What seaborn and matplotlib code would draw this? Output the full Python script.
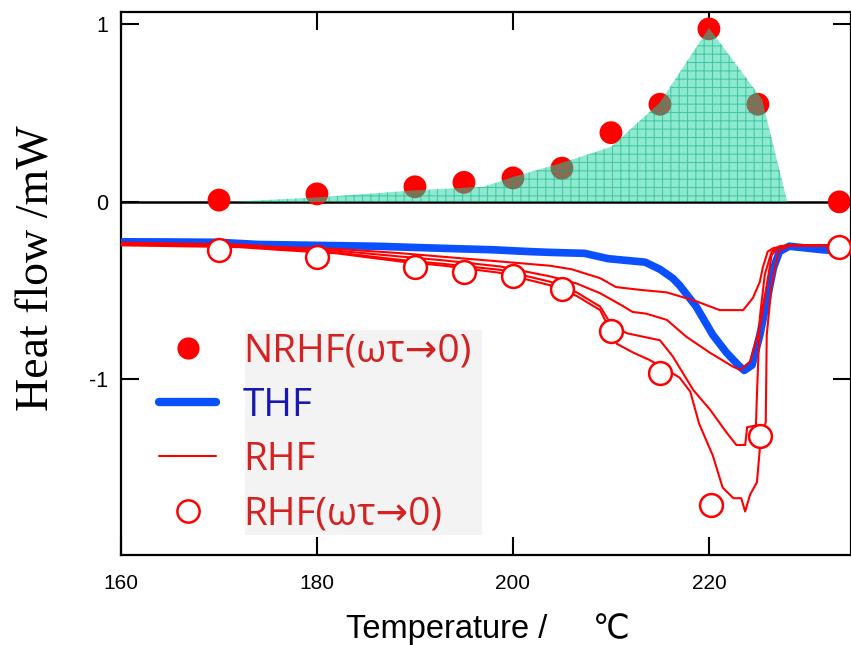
import numpy as np
import pandas as pd
import matplotlib
matplotlib.use('Agg')
import matplotlib.pyplot as plt
from matplotlib.lines import Line2D
from matplotlib.patches import Rectangle
import seaborn as sns

# NRHF (omega tau -> 0), filled dots
nrhf_T = [170, 180, 190, 195, 200, 205, 210, 215, 220, 225, 233.3]
nrhf_y = [0.01, 0.045, 0.085, 0.11, 0.135, 0.19, 0.39, 0.55, 0.975, 0.55, 0.0]

# green shaded area (upper part)
area_T = [171, 180, 190, 197, 200, 205, 210, 215, 220, 225.4, 228]
area_y = [0.0, 0.025, 0.065, 0.085, 0.14, 0.22, 0.31, 0.56, 0.98, 0.58, 0.0]

# RHF (omega tau -> 0), open circles
rhf0_T = [170, 180, 190, 195, 200, 205, 210, 215, 220.2, 225.2, 233.3]
rhf0_y = [-0.27, -0.31, -0.366, -0.394, -0.417, -0.49, -0.727, -0.963, -1.707, -1.318, -0.254]

# THF (total heat flow)
thf_T = [160, 165, 170, 174, 180, 186, 193, 198, 201.6, 204, 207.3, 209.7, 213.5, 215, 216.3,
         217, 218.7, 220.4, 221.8, 223.0, 223.6, 224.4, 225.2, 225.9, 226.6, 227.2, 228.2,
         231.6, 234.5]
thf_y = [-0.225, -0.226, -0.228, -0.24, -0.245, -0.25, -0.262, -0.27, -0.28, -0.285, -0.29,
         -0.32, -0.34, -0.38, -0.43, -0.47, -0.59, -0.75, -0.85, -0.92, -0.95, -0.92, -0.75,
         -0.56, -0.37, -0.28, -0.25, -0.27, -0.28]

# RHF curves (four runs)
rhf_a_T = [160, 166, 172, 176, 182, 188.5, 193, 198.7, 203.8, 206, 208.9, 210.5, 213, 215.7,
           218.7, 221.1, 223.5, 224.5, 225.2, 225.5, 226, 226.6, 228.2, 234.5]
rhf_a_y = [-0.23, -0.235, -0.24, -0.255, -0.265, -0.289, -0.31, -0.336, -0.36, -0.38, -0.43,
           -0.48, -0.496, -0.51, -0.56, -0.61, -0.61, -0.54, -0.45, -0.37, -0.28, -0.26,
           -0.245, -0.245]
rhf_b_T = [160, 166, 172, 176, 182, 188.5, 193, 198.7, 203.8, 206.5, 208.9, 211, 212.2, 213.6,
           215.7, 217.7, 220.1, 222.5, 223.2, 224.2, 225.2, 225.9, 226.4, 227, 228.2, 234.5]
rhf_b_y = [-0.235, -0.24, -0.245, -0.26, -0.275, -0.308, -0.33, -0.364, -0.42, -0.46, -0.515,
           -0.58, -0.62, -0.63, -0.665, -0.76, -0.85, -0.93, -0.946, -0.90, -0.71, -0.47,
           -0.30, -0.26, -0.245, -0.245]
rhf_c_T = [160, 166, 172, 176, 182, 188.5, 193, 198.7, 203.8, 206.5, 208.9, 209.9, 211.6, 215,
           216.3, 218.4, 220.1, 221.8, 222.8, 223.7, 223.9, 224.8, 224.9, 225.2, 225.7, 226.4,
           227.2, 228.2, 234.5]
rhf_c_y = [-0.24, -0.245, -0.25, -0.265, -0.285, -0.327, -0.35, -0.383, -0.45, -0.51, -0.59,
           -0.68, -0.74, -0.78, -0.87, -1.06, -1.17, -1.30, -1.37, -1.37, -1.27, -1.26, -1.09,
           -0.65, -0.41, -0.28, -0.25, -0.245, -0.245]
rhf_d_T = [160, 166, 172, 176, 182, 188.5, 193, 198.7, 203.8, 206.5, 208.9, 210.6, 212.3, 213.9,
           215.2, 217, 218.1, 219, 220.4, 221.4, 222.5, 223.3, 223.7, 224.2, 224.9, 225.2,
           225.8, 225.9, 226.4, 227.1, 228.2, 234.5]
rhf_d_y = [-0.245, -0.25, -0.255, -0.27, -0.29, -0.336, -0.36, -0.40, -0.47, -0.53, -0.61,
           -0.80, -0.85, -0.89, -0.93, -0.99, -1.07, -1.25, -1.43, -1.61, -1.67, -1.67, -1.745,
           -1.65, -1.58, -1.39, -1.24, -0.75, -0.47, -0.28, -0.245, -0.245]

legend_labels = ['NRHF(ωτ→0)', 'THF', 'RHF', 'RHF(ωτ→0)']
legend_colors = ['#d42222', '#1818b0', '#d42222', '#d42222']

rhf = pd.concat([
    pd.DataFrame({'T': rhf_a_T, 'hf': rhf_a_y, 'run': 'a'}),
    pd.DataFrame({'T': rhf_b_T, 'hf': rhf_b_y, 'run': 'b'}),
    pd.DataFrame({'T': rhf_c_T, 'hf': rhf_c_y, 'run': 'c'}),
    pd.DataFrame({'T': rhf_d_T, 'hf': rhf_d_y, 'run': 'd'}),
])

sns.set_style('ticks')
plt.rcParams['axes.unicode_minus'] = False
plt.rcParams['hatch.linewidth'] = 0.8
plt.rcParams['font.family'] = ['Liberation Sans', 'DejaVu Sans']
plt.rcParams['text.color'] = 'black'
plt.rcParams['axes.labelcolor'] = 'black'
plt.rcParams['xtick.color'] = 'black'
plt.rcParams['ytick.color'] = 'black'

fig = plt.figure(figsize=(8.51, 6.45), dpi=100)
ax = fig.add_axes([121/851, 1-555/645, 730/851, 543/645])

ax.axhline(0, color='black', lw=1.8, zorder=1.5)

sns.scatterplot(x=nrhf_T, y=nrhf_y, color='red', s=270, edgecolor='none', zorder=2,
                legend=False, ax=ax)
ax.fill_between(area_T, area_y, 0, facecolor='#1ED4A4', edgecolor='#00A87A', hatch='++',
                linewidth=0, alpha=0.5, zorder=3)

sns.lineplot(x=thf_T, y=thf_y, color='#0a50ff', lw=5.5, sort=False, zorder=3.5,
             solid_capstyle='butt', ax=ax)
sns.lineplot(data=rhf, x='T', y='hf', units='run', estimator=None, sort=False, color='red',
             lw=1.5, zorder=4, ax=ax)
sns.scatterplot(x=rhf0_T, y=rhf0_y, color='white', edgecolor='red', linewidth=1.8, s=270,
                zorder=6, legend=False, ax=ax)

ax.set_xlim(160, 234.5)
ax.set_ylim(-1.99, 1.07)
ax.set_xticks([160, 180, 200, 220])
ax.set_yticks([-1, 0, 1])
ax.set_yticklabels(['-1', '0', '1'], fontsize=15.5)
ax.set_xticklabels(['160', '180', '200', '220'], fontsize=15)
ax.tick_params(direction='in', length=13, width=1.5, top=True, right=True)
ax.tick_params(axis='x', pad=14)
ax.tick_params(axis='y', pad=9)
for s in ax.spines.values():
    s.set_linewidth(1.6)
    s.set_color('black')

ax.set_ylabel('Heat flow /mW', fontsize=33, family='Liberation Serif')
ax.yaxis.set_label_coords(-0.086, 0.528)
ax.set_xlabel('Temperature /     ℃', fontsize=23.5)
ax.xaxis.set_label_coords(0.503, -0.107)

# legend, grey box behind the text column
ax.add_patch(Rectangle((0.170, 0.037), 0.3245, 0.377, transform=ax.transAxes,
                       facecolor='#f3f3f3', edgecolor='none', zorder=4.5))
handles = [
    Line2D([], [], marker='o', ls='none', color='red', mec='none', markersize=16),
    Line2D([], [], color='#0a50ff', lw=6, solid_capstyle='round'),
    Line2D([], [], color='red', lw=1.5),
    Line2D([], [], marker='o', ls='none', mfc='white', mec='red', mew=1.8, markersize=16),
]
leg = ax.legend(handles, legend_labels, loc='upper left', bbox_to_anchor=(0.026, 0.446),
                frameon=False, borderpad=0, handlelength=1.45, handletextpad=0.7,
                labelspacing=0.42, prop={'family': ['Open Sans', 'DejaVu Sans'], 'size': 28},
                labelcolor=legend_colors)
leg.set_zorder(7)

fig.savefig('out.png', dpi=100)
